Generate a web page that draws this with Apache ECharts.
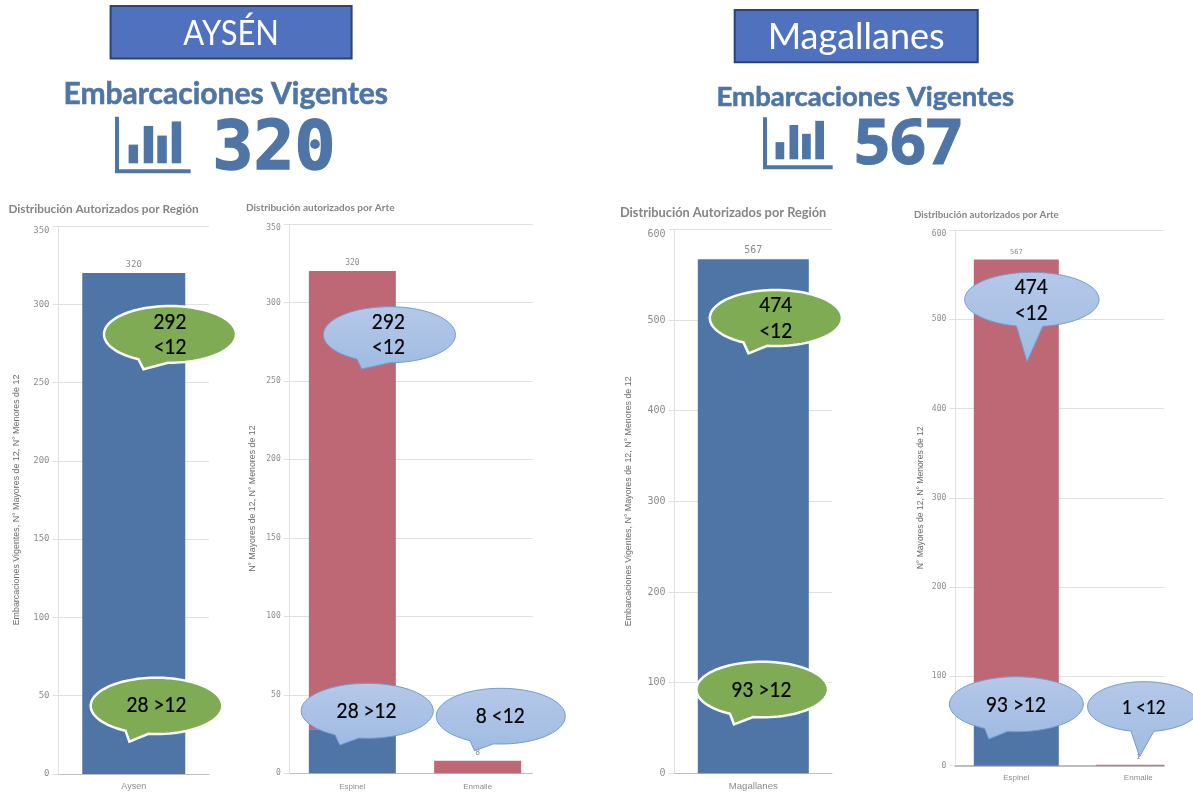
<!DOCTYPE html>
<html lang="en">
<head>
  <meta charset="UTF-8">
  <title>Embarcaciones Vigentes</title>
  <script src="https://cdn.jsdelivr.net/npm/echarts@6/dist/echarts.min.js"></script>
  <style>
    html, body { margin: 0; padding: 0; background: #fff; }
  </style>
</head>
<body>
  <div id="app" style="width: 1193px; height: 800px;"></div>
  <script>
    // values
    var regionAysen = ['Aysen']
    var regionMagallanes = ['Magallanes']
    var artes = ['Espinel', 'Enmalle']

    var vigentesAysen = [320]
    var vigentesMagallanes = [567]

    var mayoresAysen = [28, 0]
    var menoresAysen = [292, 8]
    var mayoresMagallanes = [93, 0]
    var menoresMagallanes = [474, 1]

    var nameRegion = 'Embarcaciones Vigentes, N° Mayores de 12, N° Menores de 12'
    var nameArte = 'N° Mayores de 12, N° Menores de 12'

    var blue = '#4f75a6'
    var red = '#be6875'
    var gridColor = '#e0e0e0'
    var axisGray = '#8c8c8c'
    var mono = '"DejaVu Sans Mono", monospace'
    var sans = '"Liberation Sans", sans-serif'

    var app = document.querySelector('#app')
    var mCharts = echarts.init(app)

    // panel layout: grid box and font sizes of each small chart
    var panels = [
      { left: 58.5, top: 226, width: 150.5, height: 548, max: 350, step: 50, tick: 9, cat: 9, catGap: 8, nameSize: 8.9, gap: 37, base: 1, cats: regionAysen },
      { left: 289.7, top: 224, width: 250.6, height: 549.3, max: 350, step: 50, tick: 8, cat: 8, catGap: 9, nameSize: 8.8, gap: 33, base: 1, cats: artes },
      { left: 674.6, top: 229.3, width: 157.4, height: 544, max: 600, step: 100, tick: 10, cat: 9.6, catGap: 8, nameSize: 8.85, gap: 41.5, base: 1, cats: regionMagallanes },
      { left: 955.3, top: 230, width: 244, height: 535.7, max: 600, step: 100, tick: 8, cat: 8, catGap: 8, nameSize: 8.6, gap: 30, base: 2, cats: artes }
    ]

    var grids = []
    var xAxes = []
    var yAxes = []
    for (var i = 0; i < panels.length; i++) {
      var p = panels[i]
      grids.push({ left: p.left, top: p.top, width: p.width, height: p.height, outerBoundsMode: 'none' })
      xAxes.push({
        type: 'category',
        gridIndex: i,
        data: p.cats,
        axisTick: { show: false },
        axisLine: { lineStyle: { color: '#bdbdbd', width: p.base } },
        axisLabel: { color: axisGray, fontFamily: sans, fontSize: p.cat, margin: p.catGap }
      })
      yAxes.push({
        type: 'value',
        gridIndex: i,
        min: 0,
        max: p.max,
        interval: p.step,
        name: i % 2 === 0 ? nameRegion : nameArte,
        nameLocation: 'middle',
        nameGap: p.gap,
        nameTextStyle: { color: '#6a6a6a', fontFamily: sans, fontSize: p.nameSize },
        axisLine: { show: true, lineStyle: { color: gridColor } },
        axisTick: { show: true, length: 6, lineStyle: { color: gridColor } },
        axisLabel: { color: axisGray, fontFamily: mono, fontSize: p.tick, margin: 9, verticalAlignMaxLabel: 'top' },
        splitLine: { lineStyle: { color: gridColor, width: 1 } }
      })
    }

    function totalsOf(a, b) {
      var out = []
      for (var k = 0; k < a.length; k++) out.push(a[k] + b[k])
      return out
    }

    function topLabel(size, totals) {
      return {
        show: true,
        position: 'top',
        distance: 4,
        color: axisGray,
        fontFamily: mono,
        fontSize: size,
        formatter: function (arg) {
          return totals ? totals[arg.dataIndex] : arg.value
        }
      }
    }

    var series = [
      { type: 'bar', xAxisIndex: 0, yAxisIndex: 0, data: vigentesAysen, barWidth: 103, itemStyle: { color: blue }, label: topLabel(9) },
      { type: 'bar', xAxisIndex: 1, yAxisIndex: 1, stack: 'a', data: mayoresAysen, barWidth: 87, itemStyle: { color: blue } },
      { type: 'bar', xAxisIndex: 1, yAxisIndex: 1, stack: 'a', data: menoresAysen, barWidth: 87, itemStyle: { color: red }, label: topLabel(8, totalsOf(mayoresAysen, menoresAysen)) },
      { type: 'bar', xAxisIndex: 2, yAxisIndex: 2, data: vigentesMagallanes, barWidth: 111, itemStyle: { color: blue }, label: topLabel(10) },
      { type: 'bar', xAxisIndex: 3, yAxisIndex: 3, stack: 'b', data: mayoresMagallanes, barWidth: 85, itemStyle: { color: blue } },
      { type: 'bar', xAxisIndex: 3, yAxisIndex: 3, stack: 'b', data: menoresMagallanes, barWidth: 85, itemStyle: { color: red }, label: topLabel(7, totalsOf(mayoresMagallanes, menoresMagallanes)) }
    ]

    function chartTitle(text, left, top, size) {
      return {
        text: text,
        left: left,
        top: top,
        padding: 0,
        textStyle: { color: '#858585', fontFamily: 'Lato', fontWeight: 'bold', fontSize: size }
      }
    }

    var titles = [
      chartTitle('Distribución Autorizados por Región', 8.4, 203, 11.8),
      chartTitle('Distribución autorizados por Arte', 246, 203, 10),
      chartTitle('Distribución Autorizados por Región', 620, 206, 12.8),
      chartTitle('Distribución autorizados por Arte', 914, 210, 9.75)
    ]

    var elements = []

    function box(x, y, w, h, text, size, stretch) {
      elements.push({
        type: 'rect', z: 100,
        shape: { x: x, y: y, width: w, height: h },
        style: { fill: '#4f71be', stroke: '#2a4274', lineWidth: 2 }
      })
      elements.push({
        type: 'text', z: 101, x: x + w / 2, y: y + h / 2 + 1, scaleY: stretch,
        style: { text: text, fill: '#fff', fontFamily: 'Lato', fontSize: size, textAlign: 'center', textVerticalAlign: 'middle' }
      })
    }

    function label(text, x, y, size, font, weight, color, thicken, stretch) {
      elements.push({
        type: 'text', z: 103, x: x, y: y, scaleY: stretch || 1,
        style: {
          text: text, fill: color, fontFamily: font, fontSize: size, fontWeight: weight,
          stroke: thicken ? color : null, lineWidth: thicken || 0,
          textAlign: 'center', textVerticalAlign: 'middle'
        }
      })
    }

    // chart glyph next to the big number, bars given as fractions of the icon box
    var iconBars = [[0.18, 0.33], [0.38, 0.66], [0.56, 0.49], [0.75, 0.74]]
    function icon(x, y, w, h) {
      var t = 4
      elements.push({
        type: 'polygon', z: 100,
        shape: { points: [[x, y], [x + t, y], [x + t, y + h - t], [x + w, y + h - t], [x + w, y + h], [x, y + h]] },
        style: { fill: blue }
      })
      for (var b = 0; b < iconBars.length; b++) {
        var bh = iconBars[b][1] * h
        elements.push({
          type: 'rect', z: 100,
          shape: { x: x + iconBars[b][0] * w, y: y + h - 10 - bh, width: 0.125 * w, height: bh },
          style: { fill: blue }
        })
      }
    }

    var greenStyle = { fill: '#7fab55', stroke: '#fff', lineWidth: 2.5 }
    var blueStyle = {
      fill: {
        type: 'linear', x: 0, y: 0, x2: 0, y2: 1,
        colorStops: [{ offset: 0, color: '#b5c8e8' }, { offset: 1, color: '#9fbbe2' }]
      },
      stroke: '#6f9bd3',
      lineWidth: 1
    }

    // speech bubble: ellipse box, tail tip, x of the two tail roots on the lower edge
    function bubble(x0, x1, y0, y1, tipX, tipY, rootA, rootB, style) {
      var cx = (x0 + x1) / 2
      var cy = (y0 + y1) / 2
      var rx = (x1 - x0) / 2
      var ry = (y1 - y0) / 2
      var a0 = Math.acos((rootB - cx) / rx)
      var a1 = Math.acos((rootA - cx) / rx)
      var pts = []
      // walk round the ellipse from the right root, over the top, to the left root
      var steps = 90
      for (var s = 0; s <= steps; s++) {
        var ang = a0 - (Math.PI * 2 - (a1 - a0)) * s / steps
        pts.push([cx + rx * Math.cos(ang), cy + ry * Math.sin(ang)])
      }
      pts.push([tipX, tipY])
      elements.push({ type: 'polygon', z: 102, shape: { points: pts }, style: style })
    }

    function bubbleText(text, x, y, size) {
      label(text, x, y, size || 19, 'Lato', 'normal', '#000', 0.2, 1.15)
    }

    box(110.6, 6, 241, 52.5, 'AYSÉN', 31, 1.15)
    box(734.7, 10, 243, 52.3, 'Magallanes', 36, 1)

    label('Embarcaciones Vigentes', 225.7, 94, 30, 'Lato', 'bold', blue, 0.6)
    label('Embarcaciones Vigentes', 865.3, 97, 27.5, 'Lato', 'bold', blue, 0.6)
    icon(115, 116.7, 75.6, 56.6)
    icon(763, 117.3, 69.7, 52)
    label(String(vigentesAysen[0]), 274, 151, 68, mono, 'bold', blue, 1.5)
    label(String(vigentesMagallanes[0]), 908, 146, 63, '"Open Sans"', 'bold', blue, 1)

    // white strips: both Arte panels are cropped before their band ends
    elements.push({ type: 'rect', z: 50, shape: { x: 532.8, y: 215, width: 9, height: 565 }, style: { fill: '#fff' } })
    elements.push({ type: 'rect', z: 50, shape: { x: 1164.5, y: 220, width: 30, height: 560 }, style: { fill: '#fff' } })

    // Aysen callouts
    bubble(104, 236, 306, 362.7, 143.5, 369.3, 138.5, 168, greenStyle)
    bubbleText(String(menoresAysen[0]), 170, 322)
    bubbleText('<12', 170, 347)
    bubble(90.7, 222.3, 677.7, 734, 129.4, 741.7, 125.5, 148.5, greenStyle)
    bubbleText(mayoresAysen[0] + ' >12', 156.5, 705)
    bubble(323.4, 455.4, 306.7, 362.7, 361.7, 369, 357, 390, blueStyle)
    bubbleText(String(menoresAysen[0]), 388.4, 322)
    bubbleText('<12', 388.4, 347)
    bubble(301.2, 433.2, 683.3, 738.3, 339.8, 745, 335, 359, blueStyle)
    bubbleText(mayoresAysen[0] + ' >12', 366.6, 711)
    bubble(436.3, 565.3, 688.3, 744, 474.5, 750.7, 470, 493.7, blueStyle)
    bubbleText(menoresAysen[1] + ' <12', 500.2, 716)

    // Magallanes callouts
    bubble(709.8, 841.9, 290, 346, 748.5, 353.3, 743.5, 767.2, greenStyle)
    bubbleText(String(menoresMagallanes[0]), 775.7, 305)
    bubbleText('<12', 775.7, 331)
    bubble(696.4, 828, 661.7, 717.3, 734, 724.3, 730, 753, greenStyle)
    bubbleText(mayoresMagallanes[0] + ' >12', 761.5, 689.5)
    bubble(964.7, 1099, 272.3, 326.7, 1027, 361.7, 1016.4, 1042.8, blueStyle)
    bubbleText(String(menoresMagallanes[0]), 1031.3, 287)
    bubbleText('<12', 1031.3, 313)
    bubble(949.4, 1083.3, 676.7, 731.7, 988.8, 739, 984.6, 1007.6, blueStyle)
    bubbleText(mayoresMagallanes[0] + ' >12', 1016, 704.5)
    bubble(1087.6, 1200, 681.7, 731.7, 1139.6, 756.7, 1131, 1153.8, blueStyle)
    bubbleText(menoresMagallanes[1] + ' <12', 1143.8, 707.5, 17)

    var option = {
      animation: false,
      backgroundColor: '#fff',
      title: titles,
      grid: grids,
      xAxis: xAxes,
      yAxis: yAxes,
      series: series,
      graphic: { elements: elements }
    }
    mCharts.setOption(option)
  </script>
</body>
</html>
